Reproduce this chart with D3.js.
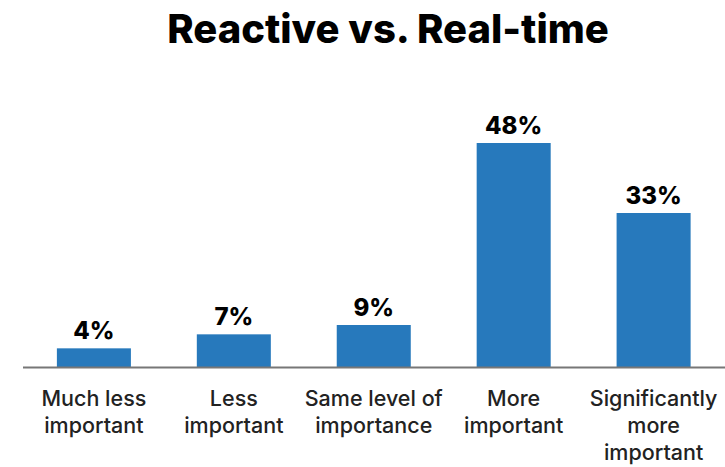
<!DOCTYPE html>
<html>
<head>
<meta charset="utf-8">
<script src="https://cdn.jsdelivr.net/npm/d3@7"></script>
<style>
  body { margin: 0; background: #fff; }
  svg { display: block; font-family: Inter, "Open Sans", sans-serif; font-variant-ligatures: none; }
</style>
</head>
<body>
<svg id="chart" width="725" height="467"></svg>
<script>
const title = "Reactive vs. Real-time";
const categories = [
  ["Much less", "important"],
  ["Less", "important"],
  ["Same level of", "importance"],
  ["More", "important"],
  ["Significantly", "more", "important"]
];
const values = [4, 7, 9, 48, 33];

const svg = d3.select("#chart");
const W = 725, H = 467;
const baseY = 367;

const x = d3.scaleBand()
  .domain(d3.range(values.length))
  .range([24, 723.5])
  .paddingInner(0.471)
  .paddingOuter(0.235);

const y = d3.scaleLinear().domain([0, 48]).range([baseY, 143]);

svg.append("text")
  .attr("x", 388).attr("y", 43)
  .attr("text-anchor", "middle")
  .attr("font-size", 40).attr("font-weight", 800)
  .attr("fill", "#000")
  .text(title);

svg.append("g").selectAll("rect")
  .data(values)
  .join("rect")
  .attr("x", (d, i) => x(i))
  .attr("width", x.bandwidth())
  .attr("y", d => y(d))
  .attr("height", d => y(0) - y(d))
  .attr("fill", "#2779bc");

svg.append("g").selectAll("text")
  .data(values)
  .join("text")
  .attr("x", (d, i) => x(i) + x.bandwidth() / 2)
  .attr("y", d => y(d) - 9)
  .attr("text-anchor", "middle")
  .attr("font-size", 24).attr("font-weight", 800)
  .attr("fill", "#000")
  .text(d => d + "%");

svg.append("line")
  .attr("x1", 23).attr("x2", W)
  .attr("y1", baseY + 0.5).attr("y2", baseY + 0.5)
  .attr("stroke", "#777").attr("stroke-width", 2);

const labels = svg.append("g").selectAll("text")
  .data(categories)
  .join("text")
  .attr("x", (d, i) => x(i) + x.bandwidth() / 2)
  .attr("y", 406)
  .attr("text-anchor", "middle")
  .attr("font-size", 21.5).attr("font-weight", 500)
  .attr("fill", "#222");

labels.selectAll("tspan")
  .data(d => d)
  .join("tspan")
  .attr("x", function () { return d3.select(this.parentNode).attr("x"); })
  .attr("dy", (d, i) => i === 0 ? 0 : 27)
  .text(d => d);
</script>
</body>
</html>
